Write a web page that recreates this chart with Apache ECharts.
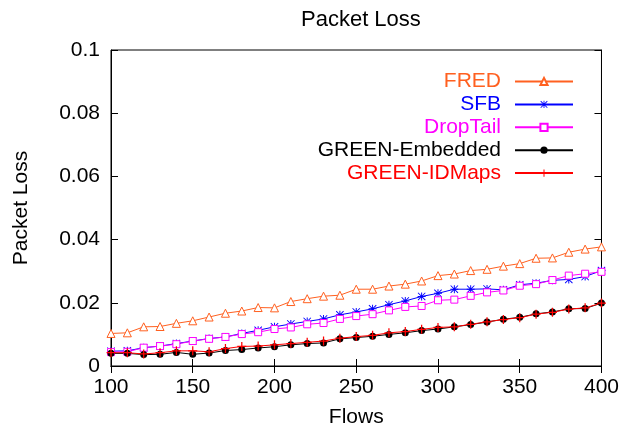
<!DOCTYPE html>
<html><head><meta charset="utf-8">
<script src="https://cdn.jsdelivr.net/npm/echarts@6/dist/echarts.min.js"></script>
<style>html,body{margin:0;padding:0;background:#fff}#c{width:622px;height:435px}</style>
</head><body><div id="c"></div>
<script>
const flows = [100,110,120,130,140,150,160,170,180,190,200,210,220,230,240,250,260,270,280,290,300,310,320,330,340,350,360,370,380,390,400];
const fred = [0.0103,0.0105,0.0124,0.0125,0.0135,0.0143,0.0155,0.0167,0.0174,0.0185,0.0184,0.0204,0.0213,0.0221,0.0224,0.0243,0.0243,0.0253,0.0259,0.0269,0.0286,0.0291,0.0302,0.0306,0.0316,0.0324,0.0341,0.0342,0.0360,0.0370,0.0377];
const sfb = [0.0047,0.0048,0.0058,0.0063,0.0071,0.0079,0.0087,0.0092,0.0103,0.0113,0.0124,0.0133,0.0141,0.0149,0.0162,0.0171,0.0181,0.0194,0.0206,0.0220,0.0230,0.0243,0.0243,0.0244,0.0241,0.0257,0.0262,0.0271,0.0274,0.0283,0.0302];
const dropTail = [0.0044,0.0045,0.0058,0.0063,0.0069,0.0079,0.0086,0.0092,0.0101,0.0107,0.0117,0.0122,0.0132,0.0136,0.0149,0.0158,0.0164,0.0176,0.0187,0.0190,0.0208,0.0210,0.0222,0.0233,0.0239,0.0254,0.0259,0.0272,0.0286,0.0292,0.0298];
const greenEmbedded = [0.0040,0.0040,0.0036,0.0037,0.0043,0.0037,0.0041,0.0049,0.0052,0.0057,0.0061,0.0067,0.0071,0.0073,0.0086,0.0090,0.0094,0.0100,0.0105,0.0112,0.0117,0.0124,0.0131,0.0139,0.0148,0.0154,0.0165,0.0171,0.0181,0.0182,0.0199];
const greenIDMaps = [0.0042,0.0042,0.0038,0.0042,0.0048,0.0048,0.0045,0.0055,0.0062,0.0063,0.0067,0.0071,0.0075,0.0079,0.0088,0.0093,0.0097,0.0105,0.0109,0.0116,0.0122,0.0124,0.0132,0.0140,0.0147,0.0153,0.0164,0.0170,0.0180,0.0184,0.0199];
const seriesNames = ['FRED','SFB','DropTail','GREEN-Embedded','GREEN-IDMaps'];
const seriesData = [fred, sfb, dropTail, greenEmbedded, greenIDMaps];
const colors = ['#ff6020','#0000ff','#ff00ff','#000000','#ff0000'];
const STAR = 'path://M4.4 0H5.6V10H4.4Z M0 4.4H10V5.6H0Z M0.8 0L10 9.2L9.2 10L0 0.8Z M9.2 0L10 0.8L0.8 10L0 9.2Z';
const PLUS = 'path://M4.3 0H5.7V10H4.3Z M0 4.3H10V5.7H0Z';
const symbols = ['triangle', STAR, 'rect', 'circle', PLUS];
const hollow = [true, false, true, false, false];
const symbolSizes = [8, 8, 7, 7, 9];
const FONT = 'Liberation Sans, Arial, Helvetica, sans-serif';

const chart = echarts.init(document.getElementById('c'), null, {renderer:'canvas'});
const axisCommon = {
  type:'value', splitLine:{show:false},
  axisLine:{show:true, lineStyle:{color:'#000', width:1}},
  axisTick:{show:true, inside:true, length:7, lineStyle:{color:'#000', width:1}}
};
chart.setOption({
  animation:false,
  backgroundColor:'#fff',
  title:{text:'Packet Loss', left:296, top:4,
    textStyle:{fontFamily:FONT, fontSize:22, fontWeight:'normal', color:'#000'}},
  grid:{left:111, right:19, top:50, bottom:69, show:true, borderColor:'#000', borderWidth:1, containLabel:false},
  legend:{
    orient:'vertical', align:'right', right:43, top:66, itemWidth:58, itemHeight:9, itemGap:1.9,
    textStyle:{fontFamily:FONT, fontSize:21, lineHeight:21, padding:[0,9,0,0]},
    data: seriesNames.map((n,i)=>({name:n, textStyle:{color:colors[i]}}))
  },
  xAxis:[
    Object.assign({}, axisCommon, {min:100, max:400, interval:50, position:'bottom',
      name:'Flows', nameLocation:'middle', nameGap:41,
      nameTextStyle:{fontFamily:FONT, fontSize:21, color:'#000'},
      axisLabel:{fontFamily:FONT, fontSize:21, color:'#000', margin:11}}),
    Object.assign({}, axisCommon, {min:100, max:400, interval:50, position:'top', axisLabel:{show:false}})
  ],
  yAxis:[
    Object.assign({}, axisCommon, {min:0, max:0.1, interval:0.02, position:'left',
      name:'Packet Loss', nameLocation:'middle', nameGap:79,
      nameTextStyle:{fontFamily:FONT, fontSize:21, color:'#000'},
      axisLabel:{fontFamily:FONT, fontSize:21, color:'#000', margin:11}}),
    Object.assign({}, axisCommon, {min:0, max:0.1, interval:0.02, position:'right', axisLabel:{show:false}})
  ],
  series: seriesNames.map((n,i)=>({
    name:n, type:'line', xAxisIndex:0, yAxisIndex:0,
    data: flows.map((f,j)=>[f, seriesData[i][j]]),
    symbol: symbols[i], symbolSize: symbolSizes[i], showAllSymbol:true,
    lineStyle:{color:colors[i], width:1, type:'solid'},
    itemStyle:{color: hollow[i] ? '#fff' : colors[i], borderColor:colors[i], borderWidth: hollow[i] ? 1 : 0},
    emphasis:{disabled:true}
  }))
});
</script></body></html>
